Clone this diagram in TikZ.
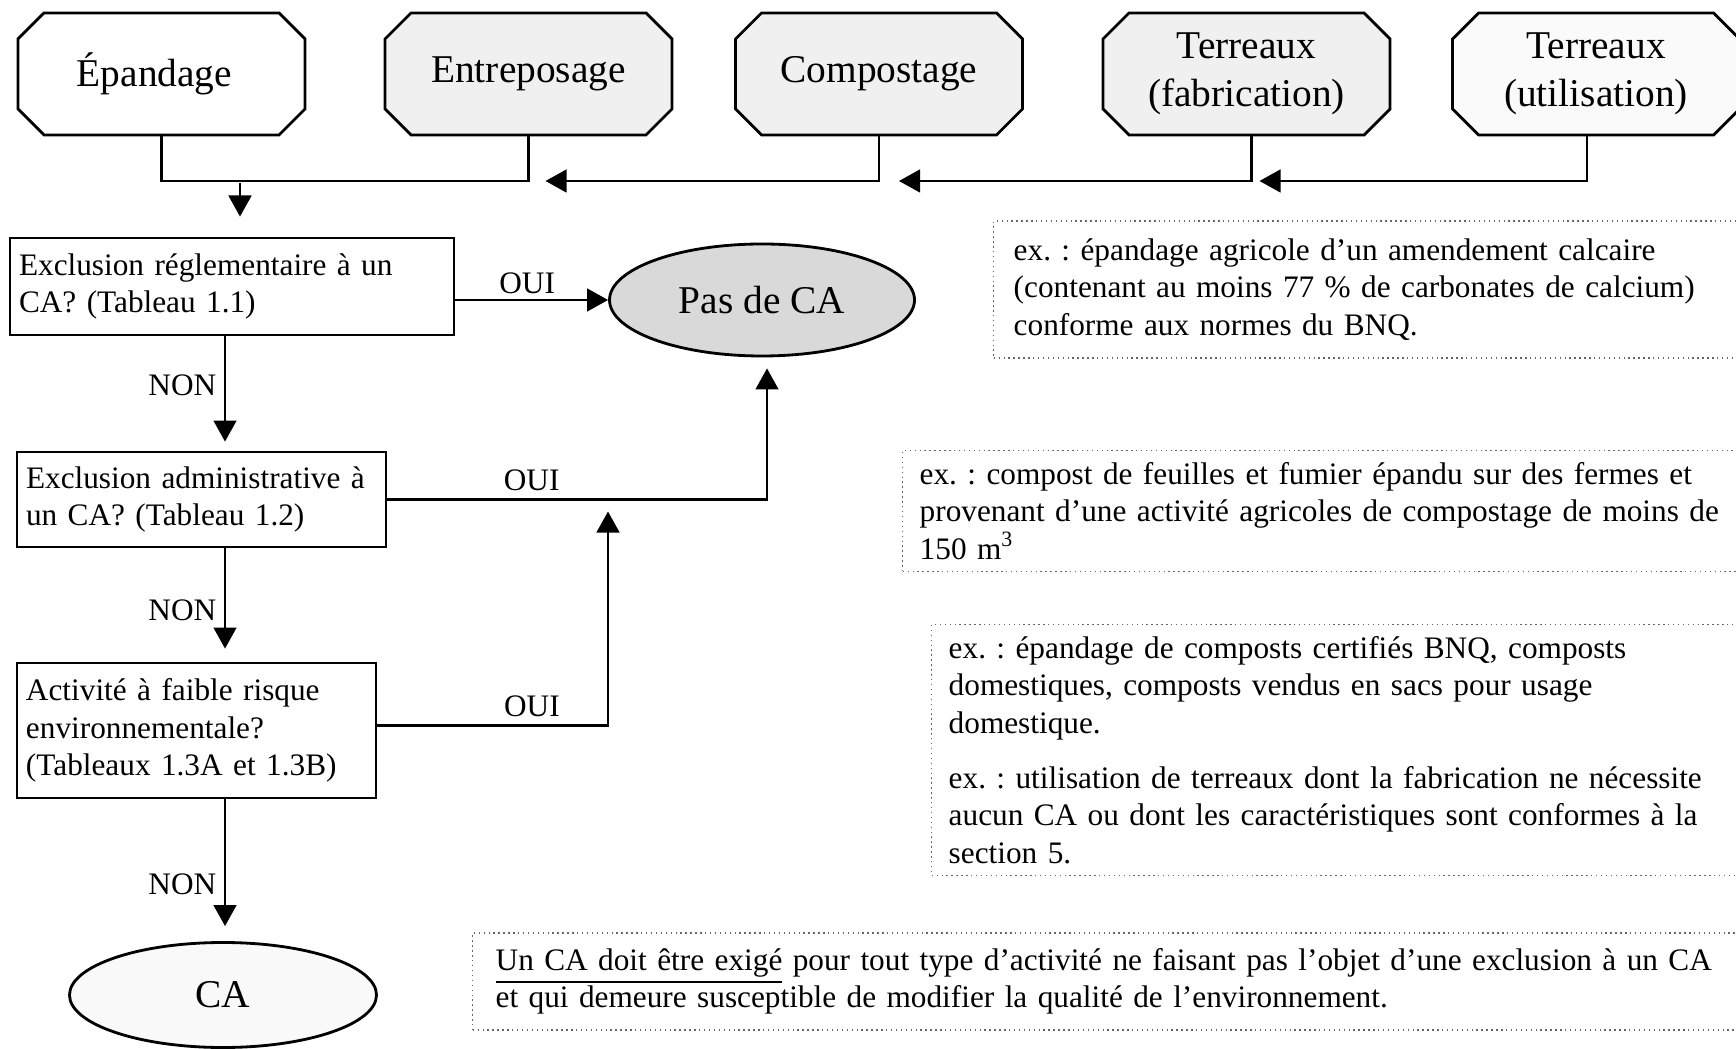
\documentclass[tikz,border=0pt]{standalone}
\usepackage{fontspec}
\setmainfont{Liberation Serif}
\frenchspacing
\usetikzlibrary{shapes.geometric, shapes.misc, arrows.meta}
\tikzstyle{activity} = [chamfered rectangle, chamfered rectangle xsep=0.13cm, chamfered rectangle ysep=0.13cm, minimum width=2.87cm, minimum height=1.22cm, inner sep=0pt, text centered, align=center, draw=black, thick, font=\fontsize{11.2pt}{13.5pt}\selectfont]
\tikzstyle{question} = [rectangle, inner xsep=0.09cm, inner ysep=0.05cm, align=left, draw=black, thick, fill=white, font=\fontsize{8.9pt}{10.7pt}\selectfont]
\tikzstyle{outcome} = [ellipse, minimum width=3.05cm, minimum height=1.12cm, inner sep=0pt, draw=black, thick, font=\fontsize{11.2pt}{13.5pt}\selectfont]
\tikzstyle{example} = [rectangle, anchor=west, align=left, draw=black!60, densely dotted, font=\fontsize{8.9pt}{10.7pt}\selectfont]
\tikzstyle{answer} = [font=\fontsize{8.9pt}{10.7pt}\selectfont]
\tikzstyle{arrow} = [semithick,->,>={Triangle[length=6pt,width=6.5pt]}]

\begin{document}
\begin{tikzpicture}[node distance=2cm]
    \useasboundingbox (0,0) rectangle (17.36,10.48);
    \clip (0,0) rectangle (17.36,10.48);

    \node (epandage) [activity, fill=white] at (1.615,9.74) {\hspace*{-0.14cm}Épandage};
    \node (entreposage) [activity, fill=gray!12, right of=epandage, xshift=1.67cm] {Entreposage};
    \node (compostage) [activity, fill=gray!12, right of=entreposage, xshift=1.505cm] {Compostage};
    \node (fabrication) [activity, fill=gray!12, right of=compostage, xshift=1.675cm] {Terreaux\\(fabrication)};
    \node (utilisation) [activity, fill=gray!4, right of=fabrication, xshift=1.495cm] {Terreaux\\(utilisation)};

    \node (reglement) [question, text width=4.26cm, minimum height=0.97cm] at (2.32,7.615) {Exclusion réglementaire à un\\CA? (Tableau 1.1)};
    \node (admin) [question, text width=3.51cm, minimum height=0.95cm, below of=reglement, xshift=-0.305cm, yshift=-0.13cm] {Exclusion administrative à\\un CA? (Tableau 1.2)};
    \node (risque) [question, text width=3.41cm, minimum height=1.35cm, below of=admin, xshift=-0.05cm, yshift=-0.31cm] {Activité à faible risque\\environnementale?\\(Tableaux 1.3A et 1.3B)};
    \node (ca) [outcome, fill=gray!5, minimum width=3.07cm, minimum height=1.05cm, below of=risque, xshift=0.265cm, yshift=-0.645cm] {CA};
    \node (pasca) [outcome, fill=gray!30, right of=reglement, xshift=3.3cm, yshift=-0.135cm] {Pas de CA};

    \node (ex1) [example, inner xsep=0.2cm, text width=7.4cm, minimum height=1.37cm] at (9.93,7.585) {ex. : épandage agricole d’un amendement calcaire\\(contenant au moins 77 \% de carbonates de calcium)\\conforme aux normes du BNQ.};
    \node (ex2) [example, inner xsep=0.17cm, text width=8.2cm, minimum height=1.14cm] at (9.02,5.37) {ex. : compost de feuilles et fumier épandu sur des fermes et\\provenant d’une activité agricoles de compostage de moins de\\150 m\textsuperscript{3}};
    \node (ex3) [example, inner xsep=0.17cm, text width=7.9cm, minimum height=2.5cm] at (9.31,2.98) {ex. : épandage de composts certifiés BNQ, composts\\domestiques, composts vendus en sacs pour usage\\domestique.\\[0.17cm]ex. : utilisation de terreaux dont la fabrication ne nécessite\\aucun CA ou dont les caractéristiques sont conformes à la\\section 5.};
    \node (rappel) [example, inner xsep=0.23cm, text width=12.5cm, minimum height=0.97cm] at (4.72,0.665) {\underline{Un CA doit être exigé} pour tout type d’activité ne faisant pas l’objet d’une exclusion à un CA\\et qui demeure susceptible de modifier la qualité de l’environnement.};

    \coordinate (bus) at (0,8.67);
    \coordinate (feed) at (2.40,8.65);
    \coordinate (spine) at (2.25,0);
    \coordinate (merge) at (6.08,0);

    \draw [semithick] (epandage.south) |- (bus -| entreposage.south) -- (entreposage.south);
    \draw [arrow] (compostage.south) |- ([xshift=0.17cm]bus -| entreposage.south);
    \draw [arrow] ([xshift=0.05cm]fabrication.south) |- ([xshift=0.2cm]bus -| compostage.south);
    \draw [arrow] ([xshift=-0.09cm]utilisation.south) |- ([xshift=0.13cm]bus -| fabrication.south);
    \draw [arrow, shorten >=0.2cm] (feed) -- (feed |- reglement.north);

    \draw [arrow] (reglement.east |- pasca) -- node[answer, above, yshift=-0.07cm, pos=0.47] {OUI} (pasca.west);
    \draw [arrow, shorten >=0.11cm] (admin.east) -| node[answer, above, yshift=-0.04cm, pos=0.19] {OUI} ([xshift=0.05cm]pasca.south);
    \draw [arrow, shorten >=0.12cm] ([yshift=0.05cm]risque.east) -| node[answer, above, yshift=-0.04cm, pos=0.335] {OUI} (merge |- admin.east);

    \draw [arrow, shorten >=0.09cm] (reglement.south -| spine) -- node[answer, left, xshift=0.04cm, pos=0.43] {NON} (admin.north -| spine);
    \draw [arrow, shorten >=0.13cm] (admin.south -| spine) -- node[answer, left, xshift=0.04cm, pos=0.55] {NON} (risque.north -| spine);
    \draw [arrow, shorten >=0.15cm] (risque.south -| spine) -- node[answer, left, xshift=0.04cm, pos=0.6] {NON} (ca.north -| spine);
\end{tikzpicture}
\end{document}
